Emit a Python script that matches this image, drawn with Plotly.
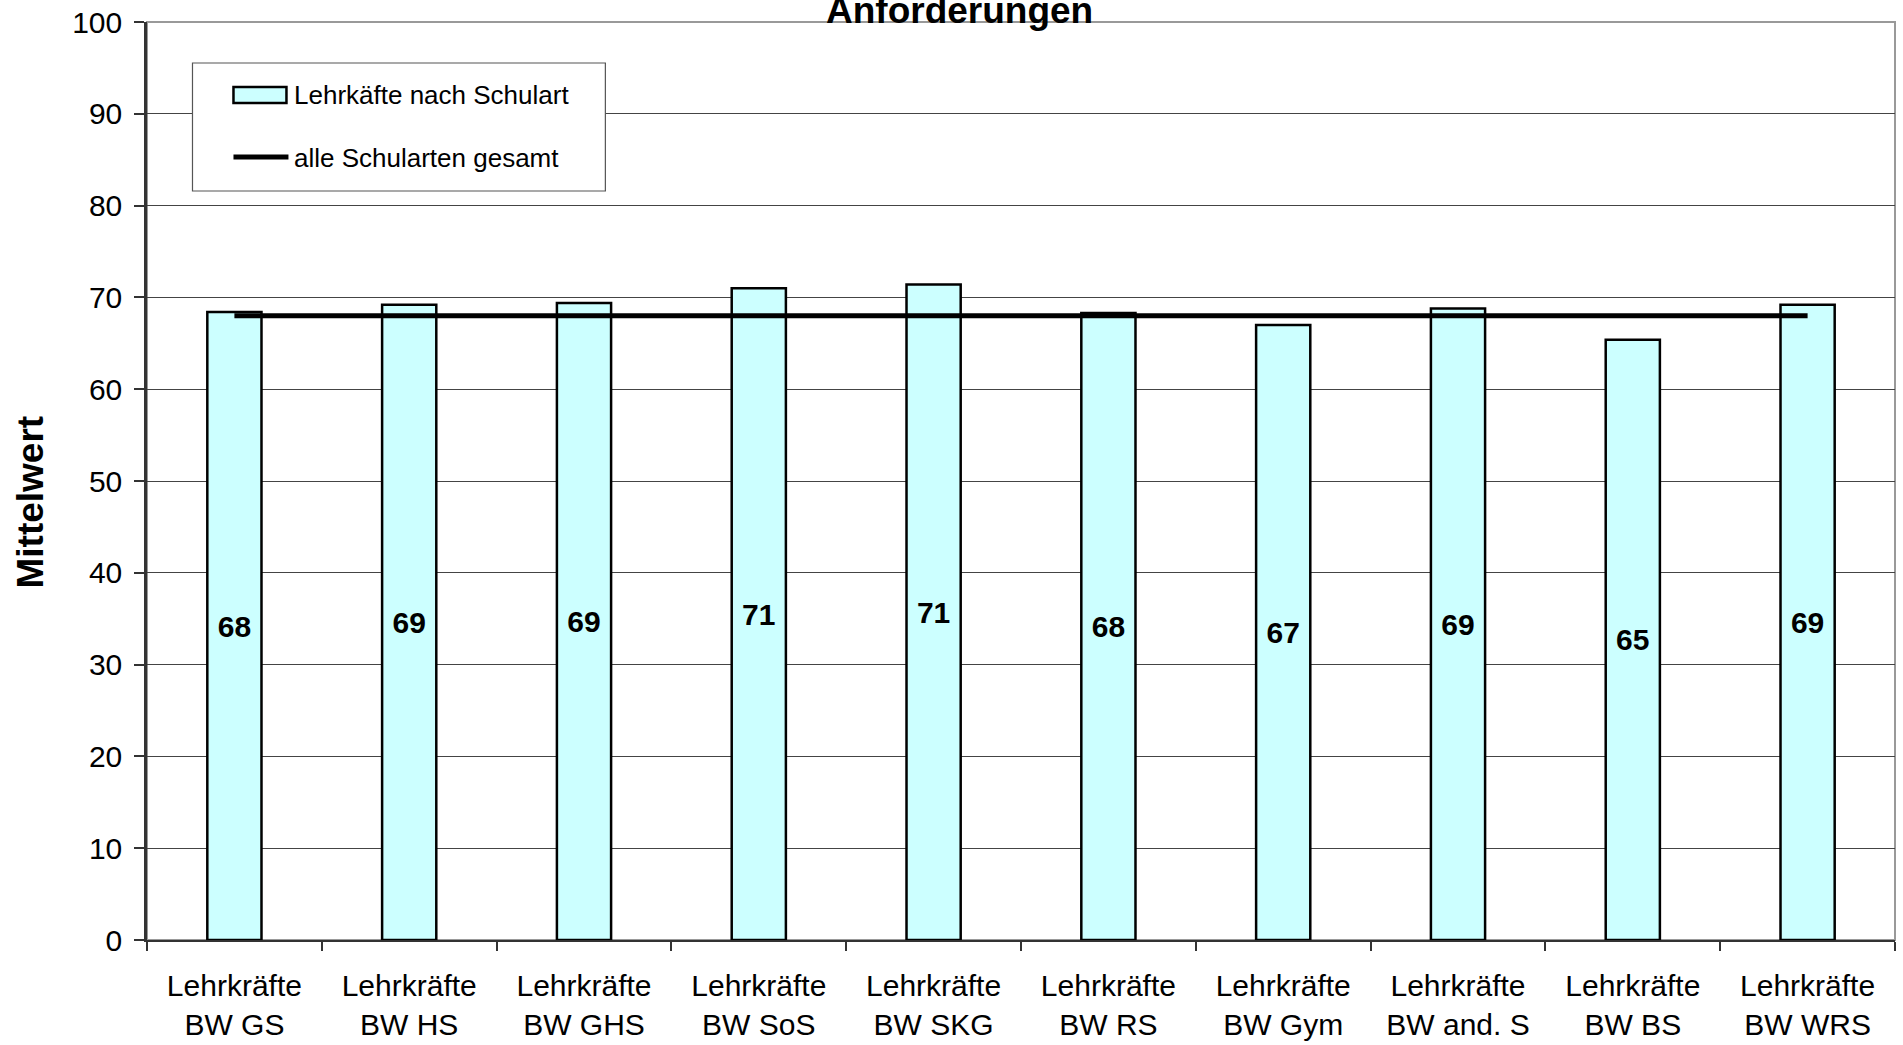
import plotly.graph_objects as go

# ---- data ----
categories = ["Lehrkräfte<br>BW GS", "Lehrkräfte<br>BW HS", "Lehrkräfte<br>BW GHS",
              "Lehrkräfte<br>BW SoS", "Lehrkräfte<br>BW SKG", "Lehrkräfte<br>BW RS",
              "Lehrkräfte<br>BW Gym", "Lehrkräfte<br>BW and. S", "Lehrkräfte<br>BW BS",
              "Lehrkräfte<br>BW WRS"]
bar_values = [68.4, 69.2, 69.4, 71.0, 71.4, 68.3, 67.0, 68.8, 65.4, 69.2]
bar_labels = ["68", "69", "69", "71", "71", "68", "67", "69", "65", "69"]
total_values = [68.0] * len(categories)
y_ticks = [0, 10, 20, 30, 40, 50, 60, 70, 80, 90, 100]

bar_name = "Lehrkäfte nach Schulart"
line_name = "alle Schularten gesamt"
title_text = "Anforderungen"
y_title = "Mittelwert"

# ---- layout geometry (pixels) ----
W, H = 1903, 1045
L, R, T, B = 146.5, 1895, 22, 940
FONT = "Liberation Sans, Arial, sans-serif"


def px2x(px):
    return (px - L) / (R - L)


def px2y(py):
    return (B - py) / (B - T)


fig = go.Figure()
fig.add_trace(go.Bar(
    x=categories, y=bar_values, width=0.31,
    marker=dict(color="#CCFFFF", line=dict(color="black", width=2.5)),
    text=bar_labels, textposition="inside", insidetextanchor="middle",
    textangle=0, constraintext="none",
    textfont=dict(family=FONT, size=30, color="black", weight="bold"),
    name=bar_name, showlegend=False,
))
fig.add_trace(go.Scatter(
    x=categories, y=total_values, mode="lines",
    line=dict(color="black", width=5),
    name=line_name, showlegend=False,
))

shapes = [
    # plot area border (gray)
    dict(type="rect", xref="paper", yref="paper", x0=0, y0=0, x1=1, y1=1,
         line=dict(color="#999999", width=2), layer="below"),
    # legend box
    dict(type="rect", xref="paper", yref="paper",
         x0=px2x(192), x1=px2x(605), y0=px2y(191), y1=px2y(63),
         line=dict(color="#555555", width=1.2), fillcolor="white", layer="above"),
    # legend bar symbol
    dict(type="rect", xref="paper", yref="paper",
         x0=px2x(233), x1=px2x(286), y0=px2y(103), y1=px2y(87),
         line=dict(color="black", width=2.5), fillcolor="#CCFFFF", layer="above"),
    # legend line symbol
    dict(type="line", xref="paper", yref="paper",
         x0=px2x(233), x1=px2x(288), y0=px2y(157), y1=px2y(157),
         line=dict(color="black", width=5), layer="above"),
]

annotations = [
    dict(text=bar_name, xref="paper", yref="paper", x=px2x(292), y=px2y(95),
         xanchor="left", yanchor="middle", showarrow=False,
         font=dict(family=FONT, size=26, color="black")),
    dict(text=line_name, xref="paper", yref="paper", x=px2x(292), y=px2y(158),
         xanchor="left", yanchor="middle", showarrow=False,
         font=dict(family=FONT, size=26, color="black")),
    dict(text="<b>" + title_text + "</b>", xref="paper", yref="paper",
         x=px2x(959), y=px2y(11), xanchor="center", yanchor="middle", showarrow=False,
         font=dict(family=FONT, size=37, color="black")),
    dict(text="<b>" + y_title + "</b>", xref="paper", yref="paper",
         x=px2x(30), y=px2y(502), xanchor="center", yanchor="middle", showarrow=False,
         textangle=-90, font=dict(family=FONT, size=37, color="black")),
]

fig.update_layout(
    width=W, height=H,
    margin=dict(l=L, r=W - R, t=T, b=H - B, pad=0, autoexpand=False),
    paper_bgcolor="white", plot_bgcolor="white",
    font=dict(family=FONT, color="black"),
    showlegend=False,
    shapes=shapes, annotations=annotations,
    bargap=0.69,
)
fig.update_xaxes(
    type="category", tickson="boundaries", ticks="outside", ticklen=9,
    tickwidth=1.5, tickcolor="#333333",
    showline=True, linecolor="#333333", linewidth=2,
    showgrid=False, tickfont=dict(family=FONT, size=30, color="black"),
    range=[-0.5, len(categories) - 0.5], automargin=False,
    ticklabelstandoff=18,
)
fig.update_yaxes(
    range=[0, 100], tickvals=y_ticks, ticks="outside", ticklen=10,
    tickwidth=1.5, tickcolor="#333333",
    showline=True, linecolor="#333333", linewidth=2.5,
    showgrid=True, gridcolor="#444444", gridwidth=1,
    tickfont=dict(family=FONT, size=30, color="black"),
    ticklabelstandoff=6, zeroline=False, automargin=False,
)

fig.write_html(
    "out.html",
    config={"displayModeBar": False},
    post_script="document.body.style.margin='0';document.body.style.overflow='hidden';",
)
